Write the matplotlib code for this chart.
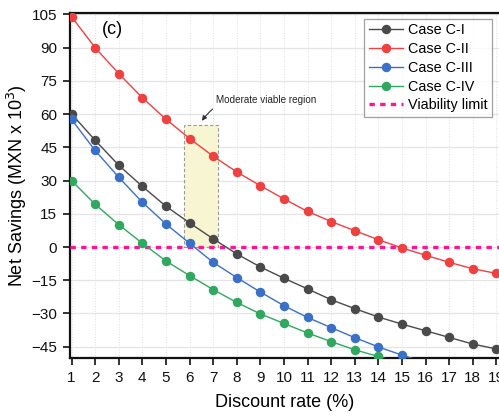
import matplotlib
matplotlib.use("Agg")
import matplotlib.pyplot as plt
from matplotlib.patches import Rectangle

plt.rcParams['font.family'] = ['Liberation Sans', 'DejaVu Sans']

discount_rate = list(range(1, 20))

case_c1 = [60.1, 48.2, 36.9, 27.4, 18.4, 10.9, 3.7, -3.1, -9.0, -14.1,
           -18.9, -23.8, -27.8, -31.6, -34.8, -37.8, -40.8, -43.8, -46.0]
case_c2 = [104.0, 90.0, 78.3, 67.4, 57.7, 49.0, 41.0, 33.9, 27.7, 21.7,
           16.1, 11.5, 7.4, 3.3, -0.4, -3.7, -6.9, -9.8, -11.9]
case_c3 = [57.6, 43.6, 31.5, 20.2, 10.4, 1.7, -6.9, -13.8, -20.3, -26.5,
           -31.8, -36.4, -40.9, -45.1, -48.8, -52.2, -55.4, -58.4, -61.0]
case_c4 = [30.0, 19.3, 10.1, 1.7, -6.3, -12.9, -19.2, -25.0, -30.2, -34.5,
           -38.8, -42.7, -46.4, -49.4, -52.6, -55.5, -58.2, -60.7, -63.0]

series_labels = ['Case C-I', 'Case C-II', 'Case C-III', 'Case C-IV']
series_colors = ['#4a4a4a', '#f04040', '#3a70c8', '#30a860']

viability_limit = 0
region_x = (5.75, 7.22)
region_top = 55.3

y_ticks = list(range(-45, 106, 15))

fig = plt.figure(figsize=(4.99, 4.18), dpi=100)
ax = fig.add_axes([0.140, 0.1435, 0.861, 0.825])

for vals, lab, col in zip([case_c1, case_c2, case_c3, case_c4], series_labels, series_colors):
    ax.plot(discount_rate, vals, '-o', color=col, lw=1.0, ms=5.8, label=lab,
            zorder=4, clip_on=True)

ax.axhline(viability_limit, color='#ff1493', lw=2.4, ls=(0, (1.6, 1.6)),
           label='Viability limit', zorder=3)

# shaded band marking the moderately viable discount rates
ax.add_patch(Rectangle((region_x[0], viability_limit), region_x[1] - region_x[0],
                       region_top - viability_limit, facecolor='#f7f5d2',
                       edgecolor='#999999', lw=0.8, ls=(0, (3, 2)), zorder=1))

ax.annotate('Moderate viable region', xy=(6.52, 57.0), xytext=(7.1, 66.6),
            fontsize=7.1, color='#222222', va='center', ha='left',
            arrowprops=dict(arrowstyle='-|>', color='#333333', lw=0.8,
                            connectionstyle='arc3,rad=0.35', shrinkA=2, shrinkB=0,
                            mutation_scale=7))

ax.text(2.75, 98.2, '(c)', fontsize=13, ha='center', va='center')

ax.set_xlim(0.928, 19.13)
ax.set_ylim(-50.1, 105.6)
ax.set_xticks(discount_rate)
ax.set_yticks(y_ticks)
ax.set_yticklabels([f'\u2212{abs(t)}' if t < 0 else str(t) for t in y_ticks])

ax.grid(axis='y', color='#e4e4e4', lw=0.9, zorder=0)
ax.grid(axis='x', color='#e0e0e0', lw=0.7, ls=':', zorder=0)
ax.set_axisbelow(True)

for side in ['left', 'bottom', 'top']:
    ax.spines[side].set_linewidth(1.6)
    ax.spines[side].set_color('#111111')
ax.spines['right'].set_visible(False)

ax.tick_params(axis='both', direction='out', length=5, width=1.2,
               labelsize=11, colors='#111111', pad=4)

ax.set_xlabel('Discount rate (%)', fontsize=13, labelpad=7)
ax.set_ylabel('Net Savings (MXN x 10$^3$)', fontsize=13, labelpad=2)

leg = ax.legend(loc='upper right', bbox_to_anchor=(0.982, 0.983), fontsize=10.4,
                frameon=True, fancybox=False, edgecolor='#888888',
                handlelength=2.4, handletextpad=0.3, borderpad=0.3,
                labelspacing=0.33, borderaxespad=0.0)
leg.get_frame().set_linewidth(0.9)

fig.savefig('out.png', dpi=100)
